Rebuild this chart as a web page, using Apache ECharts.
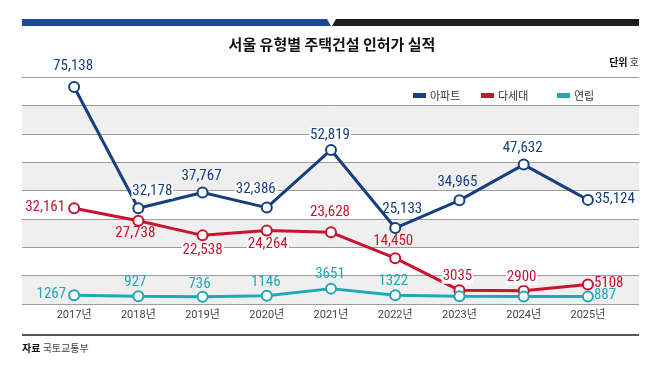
<!DOCTYPE html>
<html><head><meta charset="utf-8">
<script src="https://cdn.jsdelivr.net/npm/echarts@6/dist/echarts.min.js"></script>
<style>html,body{margin:0;padding:0;background:#fff}#c{width:658px;height:369px}</style>
</head><body><div id="c"></div>
<script>
// ---- data ----
const categories = ['2017년','2018년','2019년','2020년','2021년','2022년','2023년','2024년','2025년'];
const apartment = [75138, 32178, 37767, 32386, 52819, 25133, 34965, 47632, 35124];
const multiFamily = [32161, 27738, 22538, 24264, 23628, 14450, 3035, 2900, 5108];
const rowHouse = [1267, 927, 736, 1146, 3651, 1322, 950, 900, 887];
const rowHouseLabeled = [true, true, true, true, true, true, false, false, true];
const seriesNames = ['아파트', '다세대', '연립'];
const titleText = '서울 유형별 주택건설 인허가 실적';

// ---- label layout (dx, dy from point centre, alignment, white knock-out) ----
const aptLab = [[0,-20,'c'],[15,-16,'c',1],[0,-15,'c'],[-10,-17,'c',1],[0,-14,'c',1],[8,-18,'c'],[-1,-17,'c'],[0,-15,'c'],[8,0,'l']];
const mfLab = [[-8,0,'r'],[-2,14,'c'],[1,16,'c',1],[2,15,'c',1],[0,-19,'c'],[-1,-16,'c'],[-1,-13,'c',1],[-1,-12,'c',1],[7,0,'l']];
const rhLab = [[-7,0,'r'],[-2,-13,'c'],[-2,-12,'c'],[0,-12,'c'],[0,-13,'c'],[-1,-13,'c'],[0,-12,'c'],[0,-12,'c'],[7,0,'l']];

const BLUE = '#173f7f', RED = '#c8142e', TEAL = '#1fa8b8';
const NUMFONT = "'Liberation Sans Narrow', 'Roboto Condensed', Roboto, sans-serif";
const KFONT = "'Noto Sans CJK KR', sans-serif";
const SYM = 10;

function fmt(v) {
  return v >= 10000 ? v.toLocaleString('en-US') : String(v);
}
function mkData(vals, lab, color, shown) {
  return vals.map((v, i) => {
    const l = lab[i];
    const show = shown ? shown[i] : true;
    const align = l[2] === 'c' ? 'center' : (l[2] === 'l' ? 'left' : 'right');
    return {
      value: v,
      label: {
        show: show,
        position: [SYM / 2 + l[0], SYM / 2 + l[1]],
        align: align,
        verticalAlign: 'middle',
        formatter: fmt(v),
        color: color,
        fontFamily: NUMFONT,
        fontSize: 15,
        backgroundColor: l[3] ? '#ffffff' : 'transparent',
        padding: l[3] ? [0, 1] : 0
      }
    };
  });
}
function mkSeries(name, vals, lab, color, shown) {
  return {
    name: name, type: 'line', xAxisIndex: 1, yAxisIndex: 1,
    data: mkData(vals, lab, color, shown),
    symbol: 'emptyCircle', symbolSize: SYM,
    color: color,
    lineStyle: { width: 3, color: color },
    itemStyle: { color: color, borderWidth: 2, borderColor: color },
    label: { show: true },
    emphasis: { disabled: true },
    animation: false, z: 3
  };
}

const chart = echarts.init(document.getElementById('c'), null, { renderer: 'canvas' });
const legendCommon = {
  top: 85, icon: 'rect', itemWidth: 11, itemHeight: 3, itemGap: 4,
  textStyle: { fontFamily: KFONT, fontSize: 11, color: '#333' },
  selectedMode: false
};
chart.setOption({
  animation: false,
  grid: [
    { left: 22, right: 19, top: 77, height: 227 },
    { left: 42, right: 38, top: 77, height: 227 }
  ],
  xAxis: [
    { gridIndex: 0, type: 'value', min: 0, max: 1, show: false },
    { gridIndex: 1, type: 'category', data: categories, boundaryGap: true,
      axisLine: { show: false }, axisTick: { show: false }, splitLine: { show: false },
      axisLabel: { color: '#444', fontFamily: "Roboto, 'Noto Sans CJK KR', sans-serif", fontSize: 11, margin: 6 } }
  ],
  yAxis: [
    { gridIndex: 0, type: 'value', min: 0, max: 8, interval: 1,
      axisLine: { show: false }, axisTick: { show: false }, axisLabel: { show: false },
      splitLine: { show: true, lineStyle: { color: '#9c9c9c', width: 1 } },
      splitArea: { show: true, areaStyle: { color: ['#efefef', '#ffffff'] } } },
    { gridIndex: 1, type: 'value', min: -1800, max: 78700,
      axisLine: { show: false }, axisTick: { show: false }, axisLabel: { show: false },
      splitLine: { show: false } }
  ],
  legend: [
    Object.assign({ left: 408, data: [seriesNames[0]] }, legendCommon),
    Object.assign({ left: 476, data: [seriesNames[1]] }, legendCommon),
    Object.assign({ left: 552, data: [seriesNames[2]] }, legendCommon)
  ],
  series: [
    mkSeries(seriesNames[0], apartment, aptLab, BLUE),
    mkSeries(seriesNames[1], multiFamily, mfLab, RED),
    mkSeries(seriesNames[2], rowHouse, rhLab, TEAL, rowHouseLabeled)
  ],
  graphic: [
    { type: 'polygon', shape: { points: [[22,19],[327,19],[331,26],[22,26]] }, style: { fill: '#1b4a94' }, silent: true },
    { type: 'polygon', shape: { points: [[336,19],[639,19],[639,26],[332,26]] }, style: { fill: '#221b1c' }, silent: true },
    { type: 'text', x: 332, y: 44, style: { text: titleText, align: 'center', verticalAlign: 'middle',
        font: "bold 15px 'Noto Sans CJK KR', sans-serif", fill: '#111' } },
    { type: 'text', x: 639, y: 62, style: { text: '{b|단위} 호', align: 'right', verticalAlign: 'middle',
        font: "10px 'Noto Sans CJK KR', sans-serif", fill: '#333',
        rich: { b: { fontFamily: KFONT, fontWeight: 'bold', fontSize: 10, fill: '#111' } } } },
    { type: 'line', shape: { x1: 22, y1: 335, x2: 639, y2: 335 }, style: { stroke: '#555', lineWidth: 2 }, silent: true },
    { type: 'text', x: 22, y: 348, style: { text: '{b|자료} 국토교통부', align: 'left', verticalAlign: 'middle',
        font: "10px 'Noto Sans CJK KR', sans-serif", fill: '#444',
        rich: { b: { fontFamily: KFONT, fontWeight: 'bold', fontSize: 10, fill: '#111' } } } }
  ]
});
</script>
</body></html>
